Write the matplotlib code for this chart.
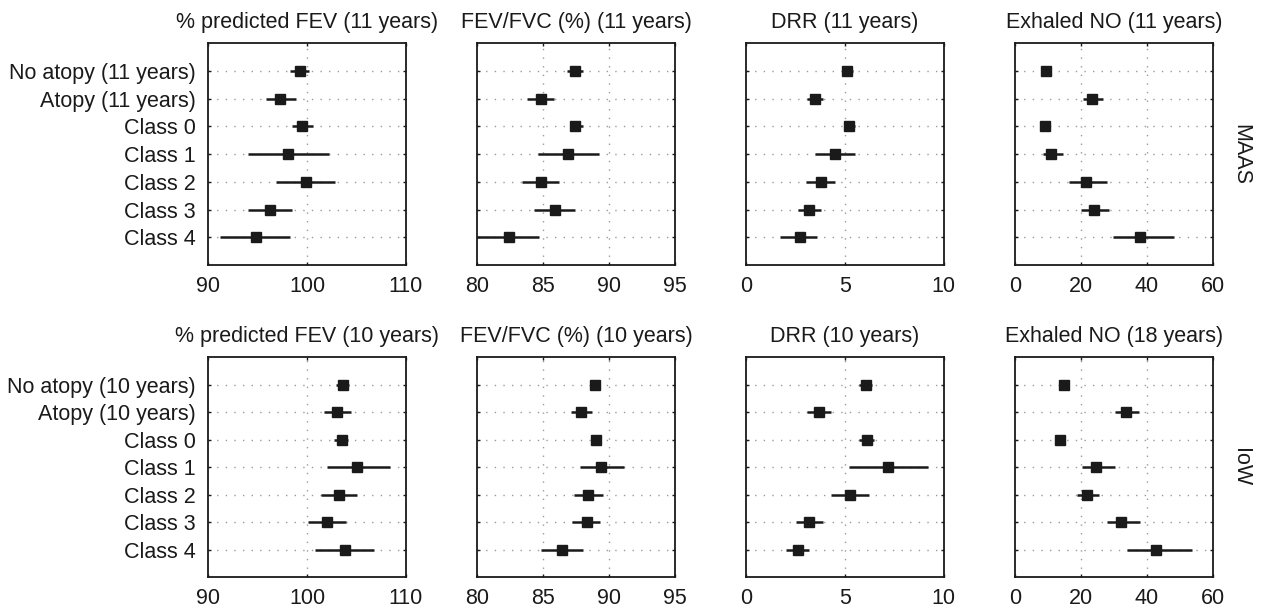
import numpy as np
import matplotlib
matplotlib.use("Agg")
import matplotlib.pyplot as plt

plt.rcParams['font.family'] = ['Liberation Sans', 'DejaVu Sans']

# rows of every panel, top to bottom
rows_maas = ['No atopy (11 years)', 'Atopy (11 years)', 'Class 0', 'Class 1', 'Class 2', 'Class 3', 'Class 4']
rows_iow = ['No atopy (10 years)', 'Atopy (10 years)', 'Class 0', 'Class 1', 'Class 2', 'Class 3', 'Class 4']

titles_maas = ['% predicted FEV (11 years)', 'FEV/FVC (%) (11 years)', 'DRR (11 years)', 'Exhaled NO (11 years)']
titles_iow = ['% predicted FEV (10 years)', 'FEV/FVC (%) (10 years)', 'DRR (10 years)', 'Exhaled NO (18 years)']

xlims = [(90, 110), (80, 95), (0, 10), (0, 60)]
xticks = [[90, 100, 110], [80, 85, 90, 95], [0, 5, 10], [0, 20, 40, 60]]

# MAAS cohort (estimate, lower, upper)
maas_fev_mean = [99.3, 97.3, 99.5, 98.1, 99.9, 96.3, 94.8]
maas_fev_lo = [98.3, 95.8, 98.5, 94.0, 96.9, 94.0, 91.2]
maas_fev_hi = [100.2, 98.9, 100.6, 102.2, 102.8, 98.5, 98.3]

maas_ratio_mean = [87.4, 84.8, 87.4, 86.9, 84.8, 85.9, 82.4]
maas_ratio_lo = [86.8, 83.8, 87.0, 84.6, 83.4, 84.3, 80.0]
maas_ratio_hi = [88.0, 85.8, 88.0, 89.2, 86.2, 87.4, 84.7]

maas_drr_mean = [5.1, 3.5, 5.2, 4.5, 3.8, 3.2, 2.7]
maas_drr_lo = [4.9, 3.1, 5.0, 3.5, 3.0, 2.6, 1.7]
maas_drr_hi = [5.4, 3.9, 5.5, 5.5, 4.5, 3.8, 3.6]

maas_no_mean = [9.3, 23.4, 9.1, 11.0, 21.4, 24.1, 37.8]
maas_no_lo = [9.0, 20.6, 8.8, 8.6, 16.4, 20.0, 29.7]
maas_no_hi = [9.6, 26.8, 9.4, 14.7, 27.9, 28.6, 48.3]

# IoW cohort
iow_fev_mean = [103.6, 103.0, 103.5, 105.1, 103.2, 102.0, 103.8]
iow_fev_lo = [102.9, 101.7, 102.7, 102.0, 101.4, 100.1, 100.8]
iow_fev_hi = [104.3, 104.5, 104.2, 108.4, 105.1, 104.0, 106.8]

iow_ratio_mean = [88.9, 87.9, 89.0, 89.4, 88.4, 88.3, 86.4]
iow_ratio_lo = [88.6, 87.1, 88.6, 87.8, 87.3, 87.2, 84.8]
iow_ratio_hi = [89.2, 88.7, 89.4, 91.1, 89.5, 89.3, 88.0]

iow_drr_mean = [6.05, 3.67, 6.1, 7.2, 5.23, 3.19, 2.6]
iow_drr_lo = [5.73, 3.09, 5.69, 5.2, 4.29, 2.5, 2.01]
iow_drr_hi = [6.35, 4.27, 6.49, 9.19, 6.2, 3.88, 3.18]

iow_no_mean = [15.0, 33.7, 13.8, 24.7, 21.9, 32.3, 42.7]
iow_no_lo = [14.6, 30.2, 13.4, 20.2, 18.8, 27.8, 34.0]
iow_no_hi = [15.4, 37.6, 14.2, 30.4, 25.4, 37.8, 53.8]

maas_data = [(maas_fev_mean, maas_fev_lo, maas_fev_hi),
             (maas_ratio_mean, maas_ratio_lo, maas_ratio_hi),
             (maas_drr_mean, maas_drr_lo, maas_drr_hi),
             (maas_no_mean, maas_no_lo, maas_no_hi)]
iow_data = [(iow_fev_mean, iow_fev_lo, iow_fev_hi),
            (iow_ratio_mean, iow_ratio_lo, iow_ratio_hi),
            (iow_drr_mean, iow_drr_lo, iow_drr_hi),
            (iow_no_mean, iow_no_lo, iow_no_hi)]

W, H = 1261, 609
fig = plt.figure(figsize=(W / 100, H / 100), dpi=100)

col_x = [(208.3, 405.7), (477.3, 675.0), (746.3, 943.7), (1015.0, 1212.7)]
row_y = [(43.0, 265.0), (357.3, 577.3)]
ink = '#1a1a1a'
grid_col = '#9a9a9a'
fs = 15.5


def panel(ax, data, title, rows, xl, xt, first):
    mean, lo, hi = [np.array(a) for a in data]
    y = np.arange(len(rows))
    for xv in xt[1:-1]:
        ax.axvline(xv, color=grid_col, lw=1.0, ls=(0, (1, 5.2)), zorder=0)
    for yv in y:
        ax.axhline(yv, color=grid_col, lw=1.0, ls=(0, (1, 5.2)), zorder=0)
    ax.errorbar(mean, y, xerr=[mean - lo, hi - mean], fmt='s', color=ink,
                ms=7.5, elinewidth=1.8, capsize=0, zorder=3, clip_on=True)
    ax.set_xlim(*xl)
    ax.set_ylim(len(rows), -1)
    ax.set_xticks(xt)
    ax.set_yticks(y)
    if first:
        ax.set_yticklabels(rows)
    else:
        ax.set_yticklabels([])
    ax.set_title(title, fontsize=fs, pad=11, color=ink)
    ax.tick_params(axis='both', direction='in', length=2, width=1,
                   labelsize=fs, top=True, right=True, colors=ink)
    ax.tick_params(axis='x', pad=8)
    ax.tick_params(axis='y', pad=9)
    for s in ax.spines.values():
        s.set_linewidth(1.3)
        s.set_color(ink)


for r, (data_row, titles, rows, side) in enumerate([(maas_data, titles_maas, rows_maas, 'MAAS'),
                                                     (iow_data, titles_iow, rows_iow, 'IoW')]):
    y0, y1 = row_y[r]
    for c in range(4):
        x0, x1 = col_x[c]
        ax = fig.add_axes([x0 / W, 1 - y1 / H, (x1 - x0) / W, (y1 - y0) / H])
        panel(ax, data_row[c], titles[c], rows, xlims[c], xticks[c], c == 0)
        if c == 3:
            ax.text(1.143, 0.5, side, transform=ax.transAxes, rotation=270,
                    ha='center', va='center', fontsize=fs, color=ink)

fig.savefig('out.png', dpi=100)
